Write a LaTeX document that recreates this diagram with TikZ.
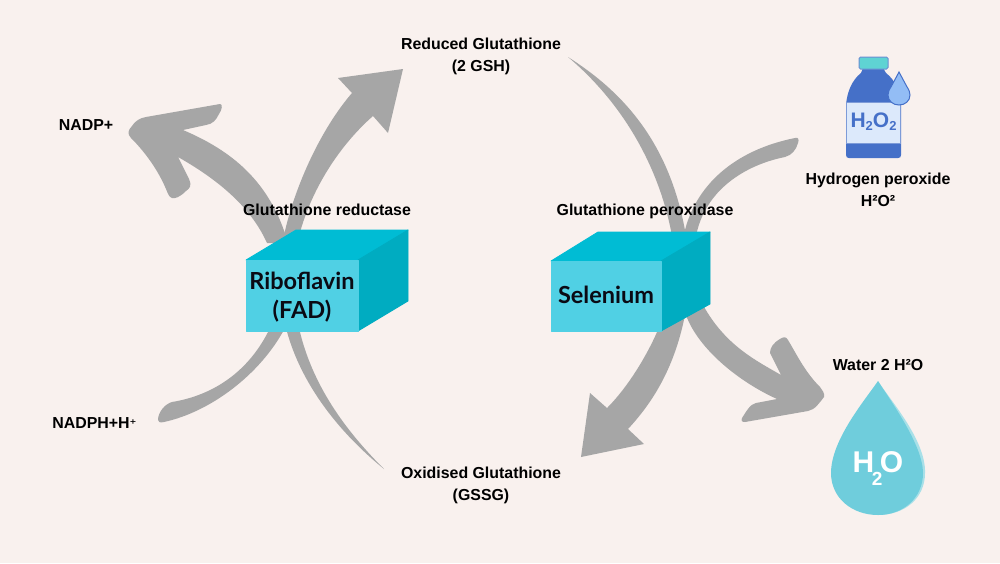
\documentclass[tikz,border=0pt]{standalone}
\usepackage{fontspec}
\setmainfont{Liberation Sans}
\newfontfamily\boxfont{Lato}
\newfontfamily\supfont{DejaVu Sans}
\definecolor{bgc}{HTML}{F9F1EE}
\definecolor{flow}{HTML}{A6A6A6}
\definecolor{boxfront}{HTML}{50D0E4}
\definecolor{boxtop}{HTML}{00BCD4}
\definecolor{boxside}{HTML}{00ACC1}
\definecolor{ink}{HTML}{0A0A14}
\definecolor{dropc}{HTML}{6FCDDC}
\definecolor{droplight}{HTML}{A8E0E8}
\definecolor{bottleblue}{HTML}{4570C8}
\definecolor{bottlecap}{HTML}{5FD3D3}
\definecolor{bottlelabel}{HTML}{DCE9FB}
\definecolor{smalldrop}{HTML}{93BDF5}
\tikzset{
  lab/.style={font=\bfseries\fontsize{15.9}{22}\selectfont,text=black,inner sep=0pt,align=center},
  boxlab/.style={font=\boxfont\bfseries\fontsize{23.5}{29}\selectfont,text=ink,inner sep=0pt,align=center},
  flowshape/.style={fill=flow,draw=none},
  front/.style={fill=boxfront,draw=boxfront,line width=.8pt,line join=round},
  topface/.style={fill=boxtop,draw=boxtop,line width=.8pt,line join=round},
  sideface/.style={fill=boxside,draw=boxside,line width=.8pt,line join=round},
}
\begin{document}
\begin{tikzpicture}[x=1pt,y=-1pt]
\useasboundingbox (0,0) rectangle (1000,563);
\fill[bgc] (0,0) rectangle (1000,563);
% NADP+ arrow
\fill[flowshape] (267,243) .. controls (250,205) and (215,178) .. (178,157)
  -- (189,179) .. controls (192,186) and (190,188) .. (186,191)
  .. controls (180,197) and (175,199) .. (172,198)
  .. controls (169,197) and (168,194) .. (166,189)
  .. controls (158,170) and (145,152) .. (131,138)
  .. controls (127,134) and (128,130) .. (132,126)
  .. controls (135,121) and (140,118) .. (146,117)
  -- (220,104) .. controls (223,104) and (222,110) .. (219,114)
  .. controls (216,120) and (213,124) .. (206,125)
  -- (183,130) .. controls (230,150) and (270,180) .. (288,243) -- cycle;
% arrow to reduced glutathione
\fill[flowshape] (283,240) .. controls (293,190) and (320,130) .. (352,93)
  -- (338,78) -- (403,69) -- (388,133) -- (373,116)
  .. controls (340,145) and (310,190) .. (298,240) -- cycle;
% NADPH arrow
\fill[flowshape] (270,328) .. controls (250,370) and (215,395) .. (172,402)
  .. controls (165,404) and (158,412) .. (158,420)
  .. controls (158,422) and (160,423) .. (164,422)
  .. controls (210,412) and (260,375) .. (285,328) -- cycle;
% thin arc to oxidised
\fill[flowshape] (286,328) .. controls (298,375) and (330,425) .. (384,469)
  .. controls (345,430) and (312,385) .. (299,328) -- cycle;
% thin arc from reduced
\fill[flowshape] (568,57) .. controls (620,90) and (670,140) .. (686,236)
  -- (672,236) .. controls (660,170) and (625,105) .. (568,57) -- cycle;
% H2O2 arrow
\fill[flowshape] (684,234) .. controls (695,185) and (735,150) .. (795,138)
  .. controls (799,137) and (799,140) .. (798,143)
  .. controls (796,150) and (792,155) .. (785,157)
  .. controls (745,165) and (705,190) .. (696,236) -- cycle;
% arrow to oxidised
\fill[flowshape] (660,325) .. controls (650,350) and (630,385) .. (607,408)
  -- (590,393) -- (581,457) -- (644,444) -- (628,429)
  .. controls (655,400) and (675,365) .. (685,315) -- cycle;
% arrow to water
\fill[flowshape] (685,312) .. controls (695,345) and (735,380) .. (777,399)
  -- (756,403) .. controls (750,404) and (746,412) .. (742,418)
  .. controls (741,421) and (742,422) .. (745,422)
  -- (808,411) .. controls (815,410) and (820,402) .. (824,397)
  .. controls (825,393) and (822,390) .. (820,387)
  .. controls (805,372) and (797,355) .. (788,340)
  .. controls (786,336) and (783,337) .. (780,339)
  .. controls (773,343) and (770,348) .. (770,353)
  -- (781,375) .. controls (755,360) and (725,345) .. (703,305) -- cycle;
% box 1
\draw[topface] (246,260) -- (296,230) -- (408,230) -- (358,260) -- cycle;
\draw[sideface] (358,260) -- (408,230) -- (408,301) -- (358,331) -- cycle;
\draw[front] (246,260) rectangle (358,331);
% box 2
\draw[topface] (551,261) -- (598,232) -- (710,232) -- (661,261) -- cycle;
\draw[sideface] (661,261) -- (710,232) -- (710,304) -- (661,331) -- cycle;
\draw[front] (551,261) rectangle (661,331);
% bottle
\fill[bottleblue] (863,68) -- (883,68) -- (886,73) .. controls (895,80) and (901,92) .. (901,105)
  -- (901,155) .. controls (901,157) and (900,158) .. (898,158) -- (849,158)
  .. controls (847,158) and (846,157) .. (846,155) -- (846,105)
  .. controls (847,92) and (852,80) .. (861,73) -- cycle;
\draw[bottleblue!70,line width=.8pt,fill=bottlelabel] (846.5,102) rectangle (900.5,143);
\draw[bottleblue!80,line width=1pt,fill=bottlecap,rounded corners=1.5pt] (859,57) rectangle (888,69);
\draw[bottleblue,line width=1pt,fill=smalldrop] (899,72) -- (906.5,86)
  .. controls (909,90) and (910,92) .. (910,95)
  .. controls (910,101) and (905,105) .. (899,105)
  .. controls (893,105) and (888,101) .. (888,95)
  .. controls (888,92) and (889,90) .. (891.5,86) -- cycle;
\node[inner sep=0pt,text=bottleblue,font=\bfseries\fontsize{21}{24}\selectfont] (bottletext) at (873.5,122) {H\raisebox{-3pt}{\fontsize{13}{13}\selectfont 2}O\raisebox{-3pt}{\fontsize{13}{13}\selectfont 2}};
% water drop
\fill[droplight] (878,381) .. controls (890,400) and (926,440) .. (925,473)
  .. controls (925,498) and (905,515) .. (878,515) -- cycle;
\fill[dropc] (878,381) .. controls (865,400) and (831,440) .. (831,473)
  .. controls (831,498) and (852,515) .. (878,515)
  .. controls (903,515) and (923,498) .. (923,473)
  .. controls (923,445) and (890,400) .. (878,381) -- cycle;
\node[inner sep=0pt,anchor=base,text=white,font=\bfseries\fontsize{30}{34}\selectfont] (watertext) at (878,472) {H\kern-2.5pt\raisebox{-13pt}{\fontsize{19}{19}\selectfont 2}\kern-2.5pt O};
% labels
\node[lab] (nadp) at (86,125) {NADP+};
\node[lab] (nadph) at (94.5,423) {NADPH+H{\supfont\bfseries\fontsize{13}{13}\selectfont ⁺}};
\node[lab] (gsh) at (481,56.5) {Reduced Glutathione\\(2 GSH)};
\node[lab] (gssg) at (481,485) {Oxidised Glutathione\\(GSSG)};
\node[lab,anchor=base] (reductase) at (327,215) {Glutathione reductase};
\node[lab,anchor=base] (peroxidase) at (645,215) {Glutathione peroxidase};
\node[lab] (peroxide) at (878,189.5) {Hydrogen peroxide\\H²O²};
\node[lab] (water) at (878,365) {Water 2 H²O};
\node[boxlab] (ribo) at (302,297) {Riboflavin\\(FAD)};
\node[boxlab] (sel) at (606,294.5) {Selenium};
\end{tikzpicture}
\end{document}
